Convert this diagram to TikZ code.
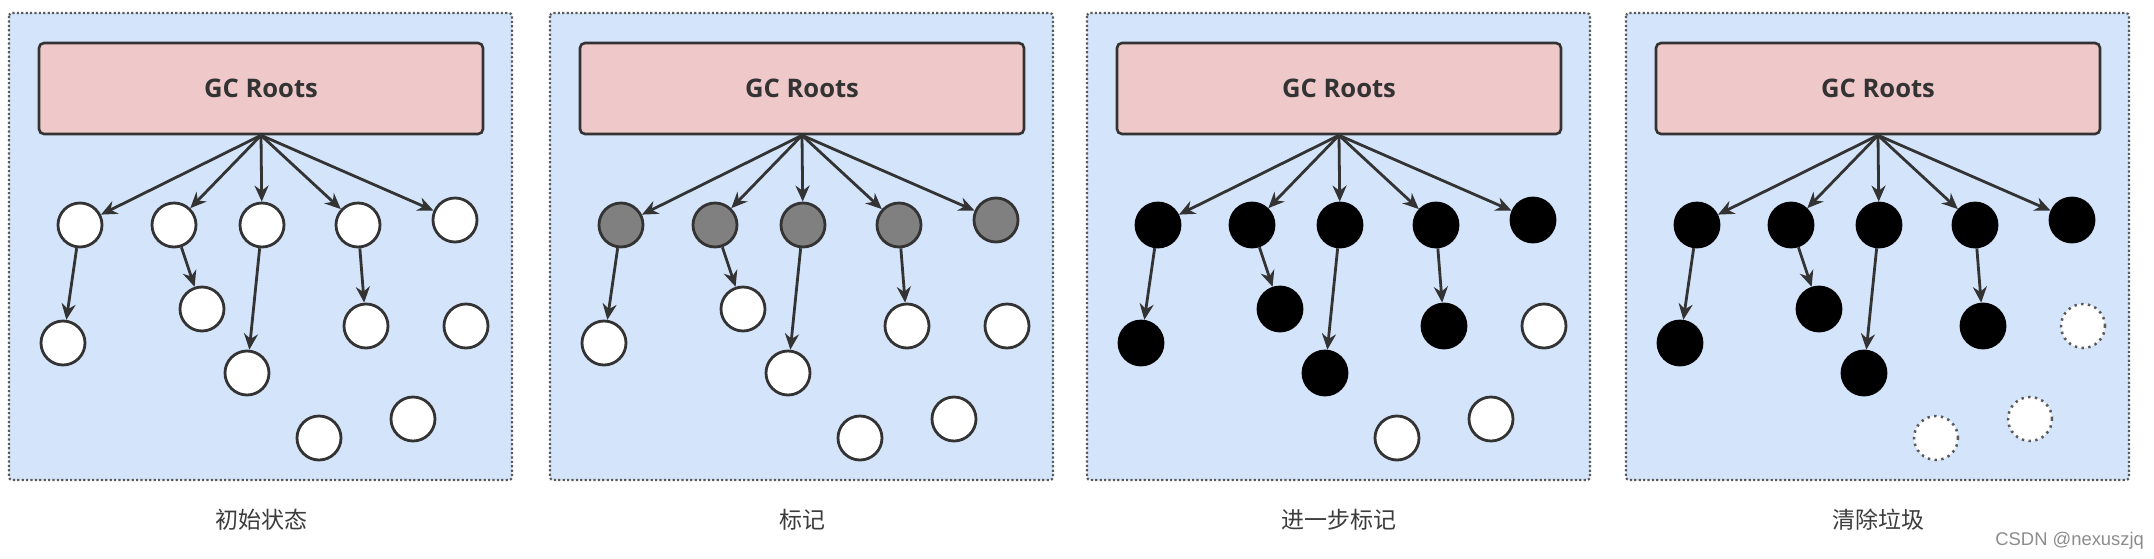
\documentclass[tikz,border=0pt]{standalone}
\usepackage{fontspec}
\setmainfont{Open Sans}
\newfontfamily\cjk{Noto Sans CJK SC}
\newfontfamily\wmfont{Liberation Sans}
\usetikzlibrary{arrows.meta}
\definecolor{panelbg}{HTML}{D4E4FA}
\definecolor{panelborder}{HTML}{5A5A5A}
\definecolor{rootfill}{HTML}{EFC9C9}
\definecolor{ink}{HTML}{333333}
\definecolor{markgray}{HTML}{808080}
\definecolor{labelgray}{HTML}{3C3C3C}
\definecolor{wmgray}{HTML}{8C8C8C}
\tikzset{
  panel/.style={fill=panelbg, draw=panelborder, line width=1.05pt, dash pattern=on 1.1pt off 1.1pt, rounded corners=1.5pt},
  roots/.style={draw=ink, fill=rootfill, line width=1.3pt, rounded corners=2.5pt,
    minimum width=222pt, minimum height=45.5pt, inner sep=0pt,
    font=\bfseries\fontsize{12.8}{15}\selectfont, text=ink},
  obj/.style={circle, minimum size=22pt, inner sep=0pt, line width=1.4pt},
  liveobj/.style={obj, fill=white, draw=ink},
  markobj/.style={obj, fill=markgray, draw=ink},
  reachobj/.style={obj, fill=black, draw=black},
  deadobj/.style={obj, fill=white, draw=panelborder, line width=1.25pt, dash pattern=on 1.2pt off 2.2pt},
  refarrow/.style={draw=ink, line width=1.4pt, -{Stealth[length=8pt,width=7pt]}},
  caption/.style={font=\cjk\fontsize{11.5}{13}\selectfont, text=labelgray},
}
\newcommand\gcpanel[6]{%
  \begin{scope}[shift={(#2,0)}]
    \draw[panel] (0,13) rectangle (503,480);
    \node[roots] (#1r) at (252,88.5) {GC Roots};
    \node[#3] (#1a) at (71,225) {};
    \node[#3] (#1b) at (165,225) {};
    \node[#3] (#1c) at (253,225) {};
    \node[#3] (#1d) at (349,225) {};
    \node[#3] (#1e) at (446,220) {};
    \node[#4] (#1ac) at (54,343) {};
    \node[#4] (#1bc) at (193,309) {};
    \node[#4] (#1cc) at (238,373) {};
    \node[#4] (#1dc) at (357,326) {};
    \node[#5] (#1x) at (457,326) {};
    \node[#5] (#1y) at (310,438) {};
    \node[#5] (#1z) at (404,419) {};
    \foreach \t in {a,b,c,d,e} {\draw[refarrow] (#1r.south) -- (#1\t);}
    \foreach \t in {a,b,c,d} {\draw[refarrow] (#1\t) -- (#1\t c);}
    \node[caption] (#1l) at (252,520) {#6};
  \end{scope}}
\begin{document}
\begin{tikzpicture}[x=0.5pt,y=-0.5pt]
  \useasboundingbox (0,0) rectangle (2154,558);
  \fill[white] (0,0) rectangle (2154,558);
  \gcpanel{p}{9}{liveobj}{liveobj}{liveobj}{初始状态}
  \gcpanel{q}{550}{markobj}{liveobj}{liveobj}{标记}
  \gcpanel{s}{1087}{reachobj}{reachobj}{liveobj}{进一步标记}
  \gcpanel{t}{1626}{reachobj}{reachobj}{deadobj}{清除垃圾}
  \node[font=\wmfont\fontsize{9.2}{11}\selectfont, text=wmgray, anchor=west, inner sep=0pt] (wm) at (1995,541) {CSDN @nexuszjq};
\end{tikzpicture}
\end{document}
